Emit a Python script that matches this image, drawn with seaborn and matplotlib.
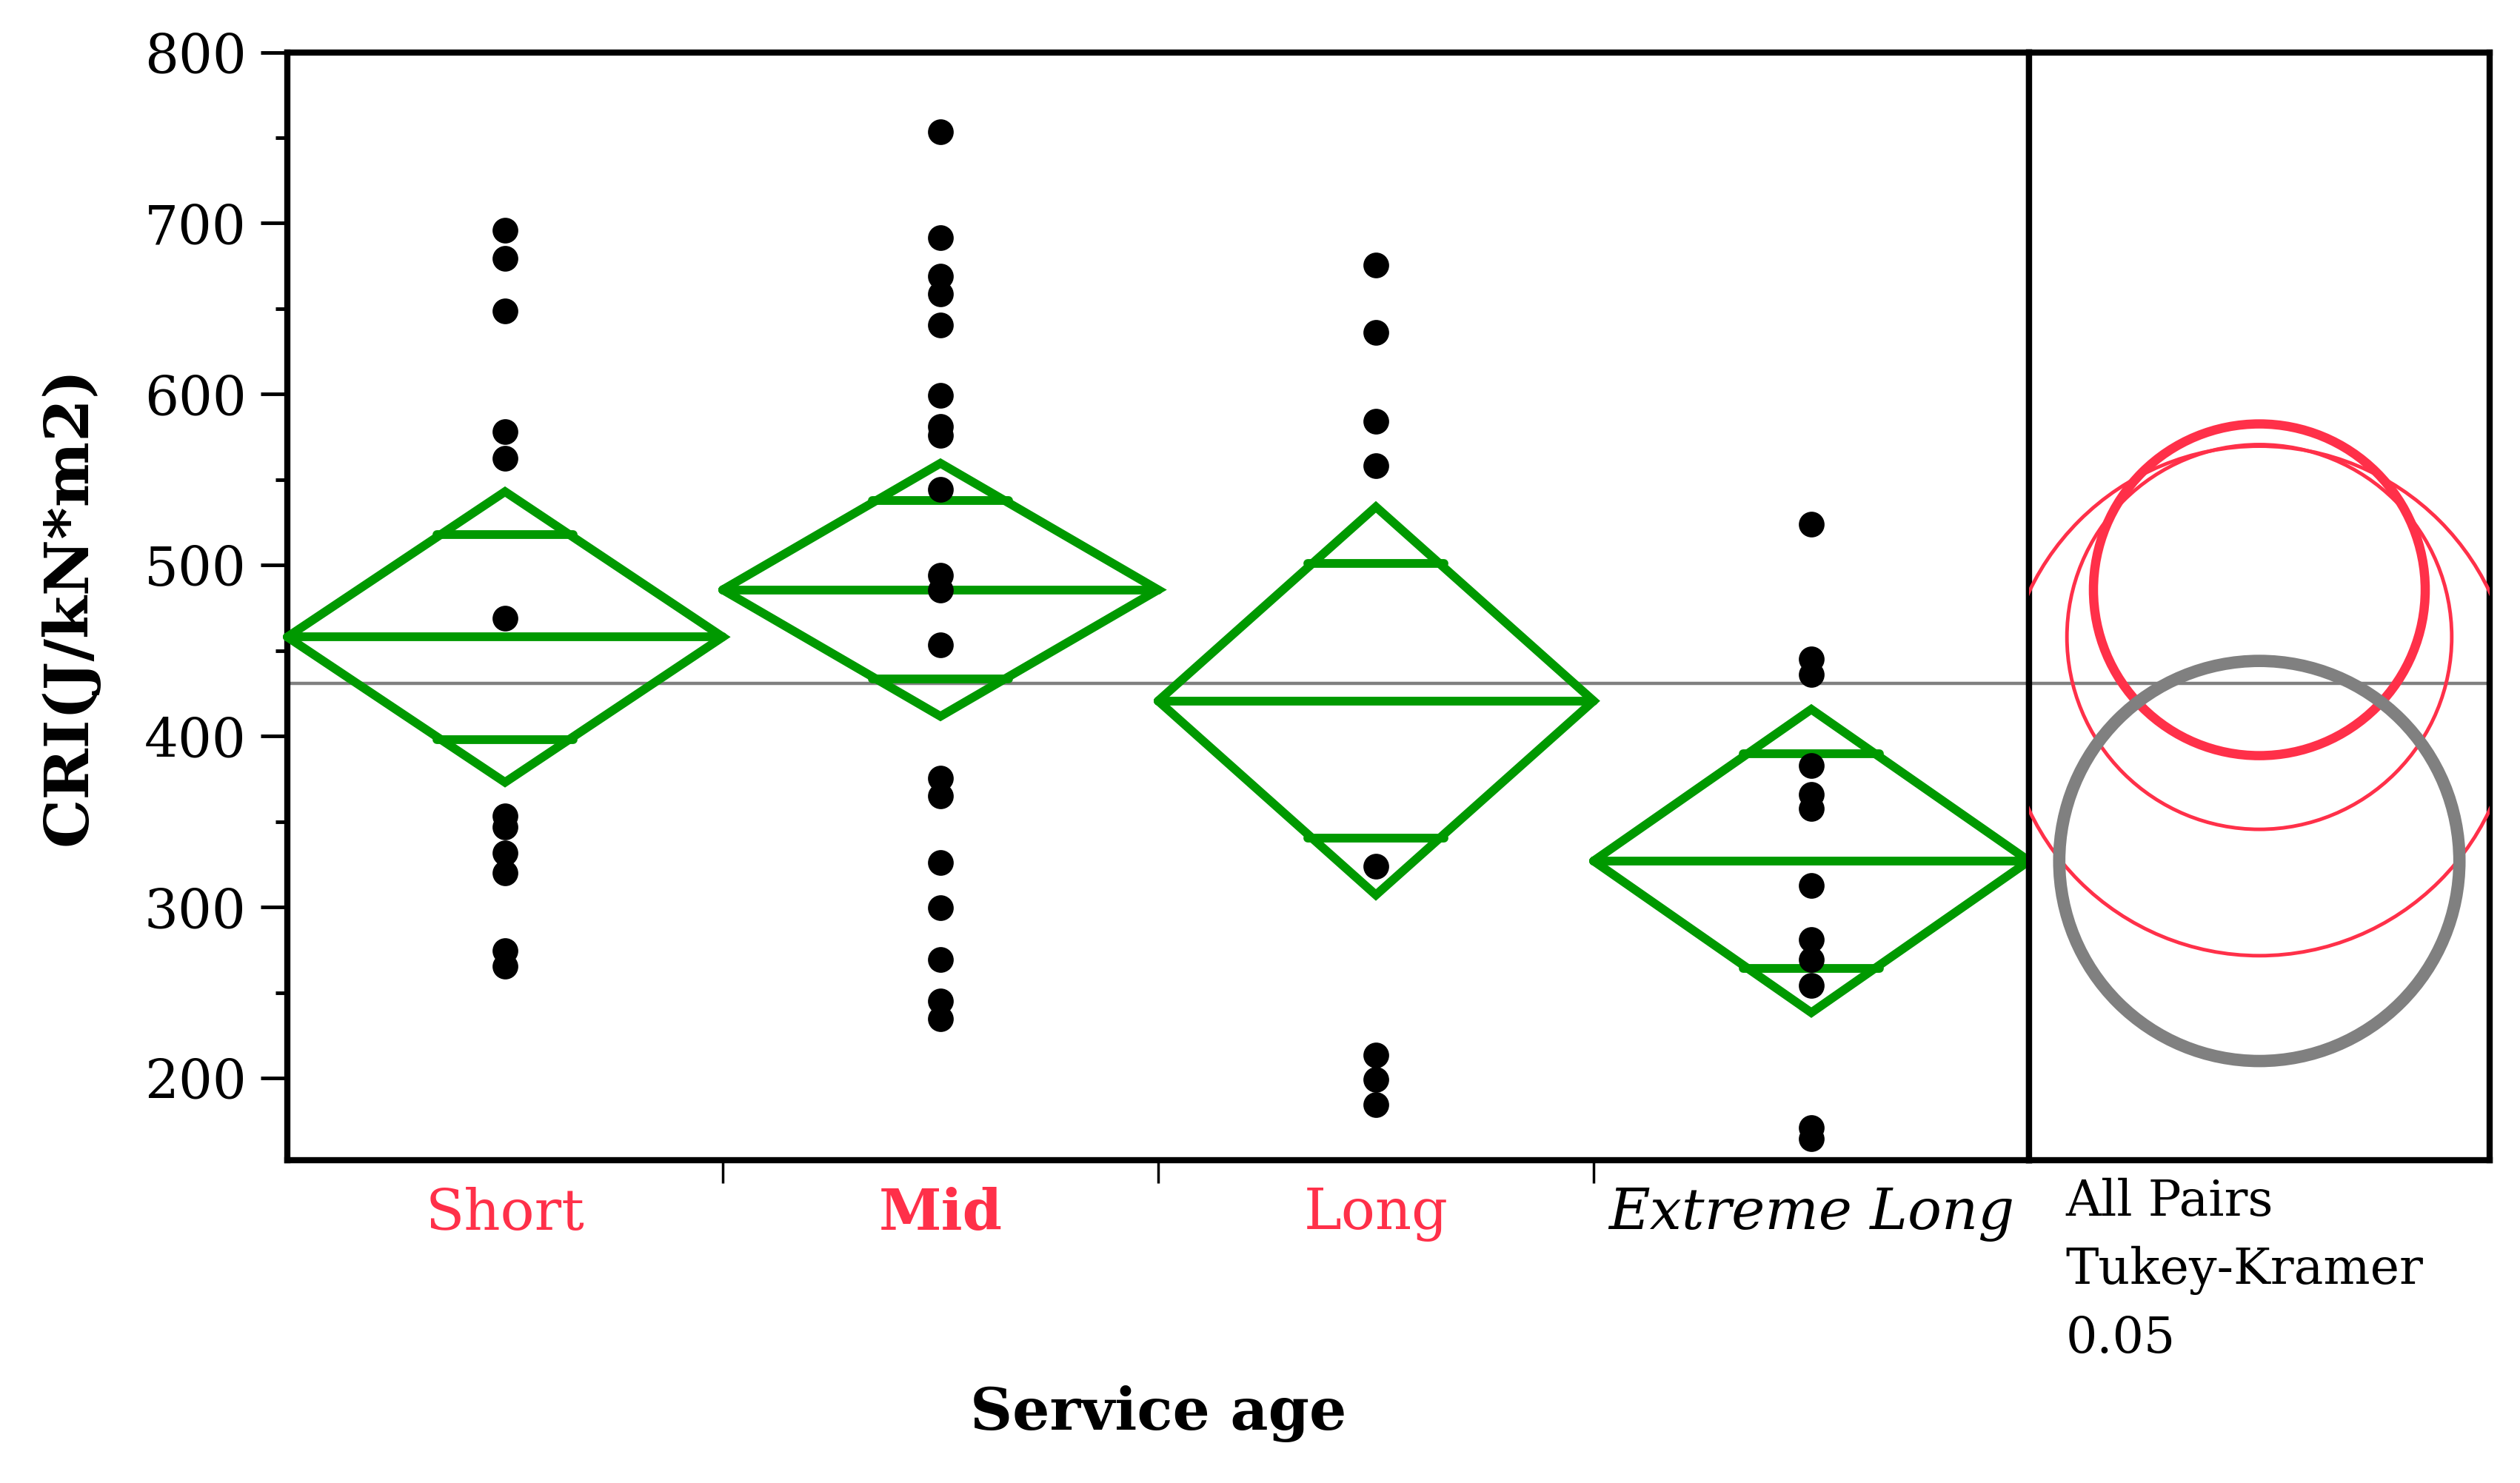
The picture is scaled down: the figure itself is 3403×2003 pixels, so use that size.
import numpy as np
import pandas as pd
import matplotlib
matplotlib.use("Agg")
import matplotlib.pyplot as plt
import seaborn as sns
from matplotlib.patches import Circle

# ---------------- data ----------------
groups = ["Short", "Mid", "Long", "Extreme Long"]
short_vals = [696, 679.5, 648.5, 578, 562.5, 469, 353.5, 347, 331.5, 320, 274.5, 265.5]
mid_vals = [753.5, 691.5, 669, 658.5, 640.5, 599.5, 581, 576, 544.5, 494, 485.5,
            453.5, 375.5, 365, 326, 299.5, 269.5, 245, 234.5]
long_vals = [675.5, 636, 584, 558, 324, 213.5, 199, 184.5]
ext_vals = [524, 445, 436, 383, 366, 357.5, 312.5, 281, 269.5, 254, 171, 164.5]

group_means = [458, 485.6, 420.6, 327]
ci_half = [85, 74, 113.5, 88.7]          # half width of mean diamond (95% CI)
circle_radius = [112.5, 97, 149, 117]    # Tukey-Kramer comparison circles
grand_mean = 431

label_colors = ["#FF3049", "#FF3049", "#FF3049", "black"]
label_weights = ["normal", "bold", "normal", "normal"]
label_styles = ["normal", "normal", "normal", "italic"]
circle_colors = ["#FF3049", "#FF3049", "#FF3049", "#808080"]
circle_widths = [3.5, 9, 3.5, 12]

df = pd.DataFrame({
    "Service age": (["Short"] * len(short_vals) + ["Mid"] * len(mid_vals)
                    + ["Long"] * len(long_vals) + ["Extreme Long"] * len(ext_vals)),
    "CRI": short_vals + mid_vals + long_vals + ext_vals,
})

# ---------------- style ----------------
sns.set_style("ticks")
plt.rcParams["font.family"] = ["DejaVu Serif"]
plt.rcParams["text.color"] = "black"
plt.rcParams["axes.labelcolor"] = "black"
plt.rcParams["xtick.color"] = "black"
plt.rcParams["ytick.color"] = "black"

GREEN = "#009900"
GRAY = "#808080"

W, H = 3403, 2003
x0, x1, x2 = 388, 2740, 3362
ytop, ybot = 70.5, 1567
ymin, ymax = 152, 800

fig = plt.figure(figsize=(W / 100, H / 100), dpi=100)
ax = fig.add_axes([x0 / W, 1 - ybot / H, (x1 - x0) / W, (ybot - ytop) / H])
axp = fig.add_axes([x1 / W, 1 - ybot / H, (x2 - x1) / W, (ybot - ytop) / H])

# points
sns.stripplot(data=df, x="Service age", y="CRI", order=groups, jitter=False,
              color="black", size=25, linewidth=0, ax=ax, zorder=5)

# grand mean
ax.axhline(grand_mean, color=GRAY, lw=3.2, zorder=2)
axp.axhline(grand_mean, color=GRAY, lw=3.2, zorder=2)

# mean diamonds
k = 1 / np.sqrt(2)
LW = 8.5
for i, (m, h) in enumerate(zip(group_means, ci_half)):
    ax.plot([i - 0.5, i, i + 0.5, i, i - 0.5], [m, m + h, m, m - h, m],
            color=GREEN, lw=LW, solid_joinstyle="miter", zorder=3, clip_on=False)
    ax.plot([i - 0.5, i + 0.5], [m, m], color=GREEN, lw=LW, zorder=3)
    hw = 0.5 * (1 - k) + 0.01
    for s in (1, -1):
        ax.plot([i - hw, i + hw], [m + s * h * k] * 2, color=GREEN, lw=LW, zorder=3)

ax.set_xlim(-0.5, 3.5)
ax.set_ylim(ymin, ymax)
ax.set_xlabel("Service age", fontsize=57, fontweight="bold", va="center")
ax.xaxis.set_label_coords(0.5, (ybot - 1910) / (ybot - ytop))
ax.set_ylabel("CRI(J/kN*m2)", fontsize=60, fontweight="bold", va="center")
ax.yaxis.set_label_coords((93 - x0) / (x1 - x0), 0.5)

ax.set_yticks(np.arange(200, 801, 100))
ax.set_yticks(np.arange(250, 800, 100), minor=True)
ax.tick_params(axis="y", which="major", length=26, width=3.5, labelsize=52, pad=14, direction="out")
ax.tick_params(axis="y", which="minor", length=11.5, width=3.5, direction="out")

ax.set_xticks(range(4))
ax.set_xticklabels(groups)
ax.set_xticks([0.5, 1.5, 2.5], minor=True)
ax.tick_params(axis="x", which="major", length=0, labelsize=55, pad=26)
ax.tick_params(axis="x", which="minor", length=22, width=2.5, direction="out")
for lab, c, w, st in zip(ax.get_xticklabels(), label_colors, label_weights, label_styles):
    lab.set_color(c)
    lab.set_fontweight(w)
    lab.set_fontstyle(st)

for sp in ax.spines.values():
    sp.set_linewidth(6)
    sp.set_color("black")

# comparison circles panel
ppu = (ybot - ytop) / (ymax - ymin)
half = (x2 - x1) / ppu / 2
axp.set_xlim(-half, half)
axp.set_ylim(ymin, ymax)
for m, r, c, lw in zip(group_means, circle_radius, circle_colors, circle_widths):
    axp.add_patch(Circle((0, m), r, fill=False, edgecolor=c, lw=lw, zorder=4))
axp.set_xticks([])
axp.set_yticks([])
for sp in axp.spines.values():
    sp.set_linewidth(6)
    sp.set_color("black")
axp.text(0.079, (ybot - 1591) / (ybot - ytop), "All Pairs\nTukey-Kramer\n0.05",
         transform=axp.transAxes, ha="left", va="top", fontsize=48, linespacing=1.52)

fig.savefig("out.png", dpi=100)
